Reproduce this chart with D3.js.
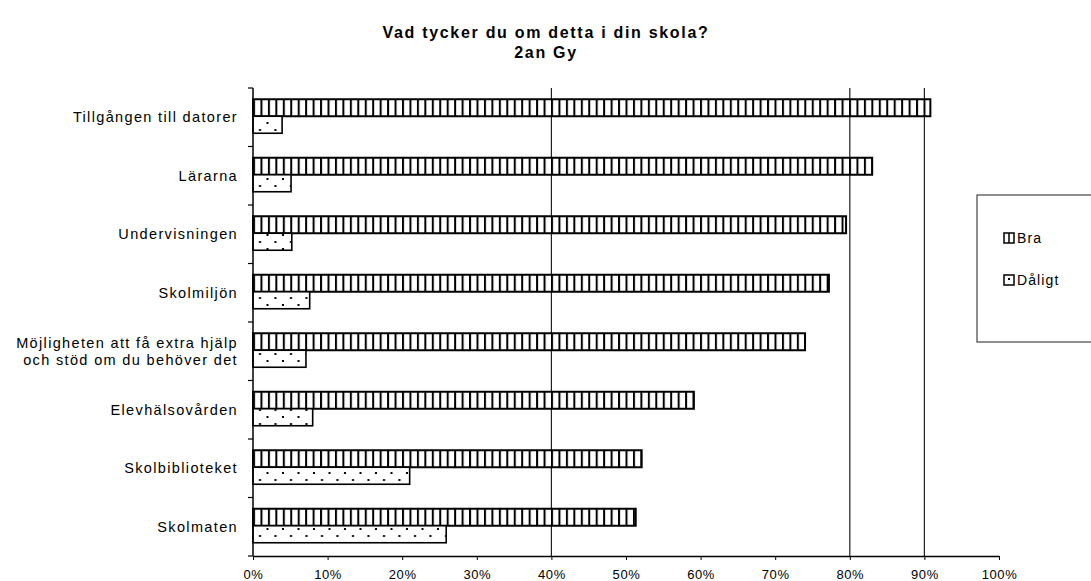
<!DOCTYPE html>
<html>
<head>
<meta charset="utf-8">
<script src="https://cdn.jsdelivr.net/npm/d3@7"></script>
<style>
  body { margin: 0; background: #fff; }
  svg { display: block; font-family: "Liberation Sans", Arial, sans-serif; }
</style>
</head>
<body>
<svg id="chart" width="1091" height="581"></svg>
<script>
// data (share of students, %)
var categories = ['Tillgången till datorer', 'Lärarna', 'Undervisningen', 'Skolmiljön',
  'Möjligheten att få extra hjälp\noch stöd om du behöver det', 'Elevhälsovården',
  'Skolbiblioteket', 'Skolmaten'];
var bra    = [90.8, 83.0, 79.5, 77.2, 74.0, 59.1, 52.1, 51.3];
var daligt = [3.9, 5.1, 5.2, 7.6, 7.1, 8.0, 21.0, 25.9];
var seriesNames = ['Bra', 'Dåligt'];
var xTicks = [0, 10, 20, 30, 40, 50, 60, 70, 80, 90, 100];

var svg = d3.select('#chart');
var margin = {left: 253, right: 92, top: 88, bottom: 25};
var W = 1091, H = 581;

var x = d3.scaleLinear().domain([0, 100]).range([margin.left, W - margin.right]);
var y = d3.scaleBand().domain(categories).range([margin.top, H - margin.bottom]);
var barH = 17;

// patterns
var defs = svg.append('defs');
var stripes = defs.append('pattern').attr('id', 'stripes')
  .attr('patternUnits', 'userSpaceOnUse').attr('width', 7.45).attr('height', 10)
  .attr('x', x(0));
stripes.append('rect').attr('width', 7.45).attr('height', 10).attr('fill', '#fff');
stripes.append('rect').attr('x', 0).attr('width', 2).attr('height', 10).attr('fill', '#000');

var dots = defs.append('pattern').attr('id', 'dots')
  .attr('patternUnits', 'userSpaceOnUse').attr('width', 15.5).attr('height', 14)
  .attr('x', x(0)).attr('y', 0);
dots.append('rect').attr('width', 15.5).attr('height', 14).attr('fill', '#fff');
dots.append('rect').attr('x', 6).attr('y', 3).attr('width', 2).attr('height', 2).attr('fill', '#000');
dots.append('rect').attr('x', 13.5).attr('y', 10).attr('width', 2).attr('height', 2).attr('fill', '#000');

// title
svg.append('text').attr('x', 546).attr('y', 38).attr('text-anchor', 'middle')
  .attr('font-size', 16).attr('font-weight', 'bold').attr('letter-spacing', 1.7)
  .text('Vad tycker du om detta i din skola?');
svg.append('text').attr('x', 546).attr('y', 58).attr('text-anchor', 'middle')
  .attr('font-size', 16).attr('font-weight', 'bold').attr('letter-spacing', 1.7)
  .text('2an Gy');

// gridlines (only some survived in the original print)
svg.append('g').selectAll('line').data([40, 80, 90]).enter().append('line')
  .attr('x1', d => x(d)).attr('x2', d => x(d))
  .attr('y1', margin.top).attr('y2', H - margin.bottom)
  .attr('stroke', '#222').attr('stroke-width', 1.2);

// bars
var rows = svg.append('g').selectAll('g').data(categories).enter().append('g');

rows.append('rect')
  .attr('x', x(0))
  .attr('y', (d, i) => y(d) + y.bandwidth() / 2 - barH - 1)
  .attr('width', (d, i) => x(bra[i]) - x(0))
  .attr('height', barH)
  .attr('fill', 'url(#stripes)').attr('stroke', '#000').attr('stroke-width', 2);

rows.append('rect')
  .attr('x', x(0))
  .attr('y', (d, i) => y(d) + y.bandwidth() / 2 - 1)
  .attr('width', (d, i) => x(daligt[i]) - x(0))
  .attr('height', barH)
  .attr('fill', 'url(#dots)').attr('stroke', '#000').attr('stroke-width', 1.6);

// x axis
var xAxis = d3.axisBottom(x).tickValues(xTicks).tickFormat(d => d + '%')
  .tickSize(4).tickSizeOuter(0);
var gx = svg.append('g').attr('transform', 'translate(0,' + (H - margin.bottom) + ')').call(xAxis);
gx.select('.domain').attr('stroke', '#000').attr('stroke-width', 1.5);
gx.selectAll('.tick line').attr('stroke', '#000');
gx.selectAll('.tick text').attr('font-size', 13).attr('fill', '#000').attr('dy', '1.2em')
  .attr('letter-spacing', 0.6)
  .attr('font-family', '"Liberation Sans", Arial, sans-serif');

// y axis: line plus outward ticks at band edges
var yg = svg.append('g');
yg.append('line').attr('x1', x(0)).attr('x2', x(0))
  .attr('y1', margin.top).attr('y2', H - margin.bottom)
  .attr('stroke', '#000').attr('stroke-width', 1.5);
var edges = categories.map(d => y(d)).concat([H - margin.bottom]);
yg.selectAll('.yt').data(edges).enter().append('line')
  .attr('x1', x(0) - 5).attr('x2', x(0))
  .attr('y1', d => d).attr('y2', d => d)
  .attr('stroke', '#000').attr('stroke-width', 1.2);

var labels = yg.selectAll('.lab').data(categories).enter().append('text')
  .attr('text-anchor', 'end').attr('font-size', 14.5).attr('fill', '#000')
  .attr('letter-spacing', 1.35)
  .attr('x', 238)
  .attr('y', d => y(d) + y.bandwidth() / 2);
labels.each(function (d) {
  var lines = d.split('\n');
  var t = d3.select(this);
  lines.forEach(function (l, k) {
    t.append('tspan').attr('x', 238)
      .attr('dy', k === 0 ? ((0.35 - (lines.length - 1) * 0.6) + 'em') : '1.2em')
      .text(l);
  });
});

// legend
var lg = svg.append('g');
lg.append('rect').attr('x', 977).attr('y', 195).attr('width', 130).attr('height', 147)
  .attr('fill', '#fff').attr('stroke', '#444').attr('stroke-width', 1.2);
var items = lg.selectAll('.it').data(seriesNames).enter().append('g')
  .attr('transform', (d, i) => 'translate(1004,' + (233 + i * 42) + ')');
items.append('rect').attr('width', 10).attr('height', 10).attr('fill', '#fff')
  .attr('stroke', '#000').attr('stroke-width', 1.5);
items.filter((d, i) => i === 0).append('line')
  .attr('x1', 5).attr('x2', 5).attr('y1', 0).attr('y2', 10).attr('stroke', '#000').attr('stroke-width', 1.5);
items.filter((d, i) => i === 1).append('rect')
  .attr('x', 4).attr('y', 3).attr('width', 2).attr('height', 2).attr('fill', '#000');
items.append('text').attr('x', 13).attr('y', 10).attr('font-size', 14)
  .attr('letter-spacing', 1.1).text(d => d);
</script>
</body>
</html>
